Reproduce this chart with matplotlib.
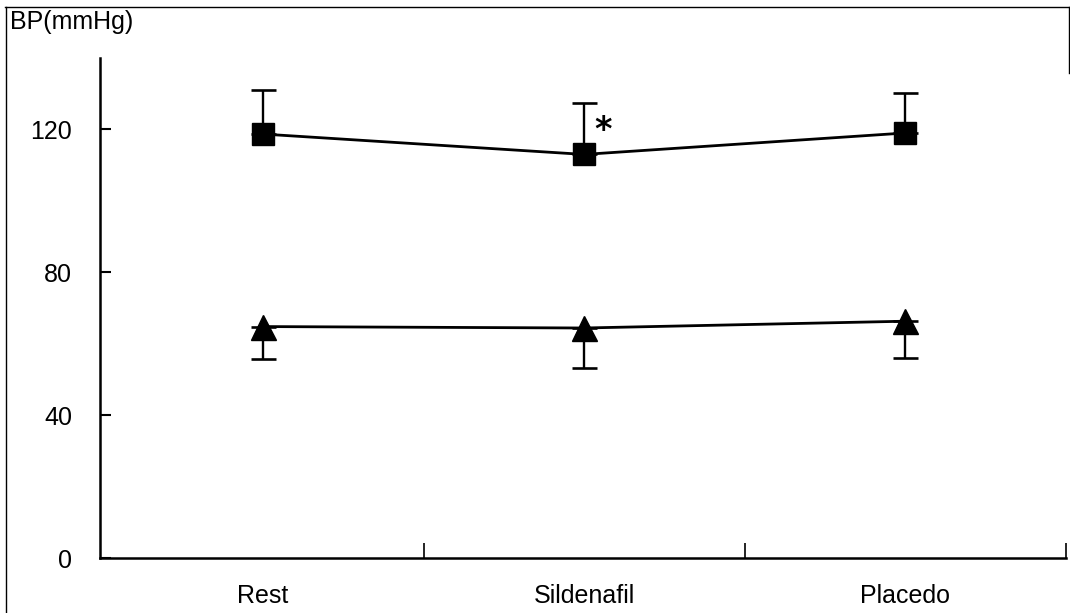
import matplotlib
matplotlib.use("Agg")
import matplotlib.pyplot as plt
from matplotlib.lines import Line2D

categories = ["Rest", "Sildenafil", "Placedo"]
systolic = [118.7, 113.0, 119.0]
systolic_sd = [12.2, 14.4, 11.1]
diastolic = [64.8, 64.4, 66.3]
diastolic_sd = [9.1, 11.2, 10.3]
yticks = [0, 40, 80, 120]
ylabel = "BP(mmHg)"
sig_mark = "*"

plt.rcParams['font.family'] = ['Liberation Sans', 'DejaVu Sans']

fig = plt.figure(figsize=(10.7, 6.13), dpi=100)
ax = fig.add_axes([100/1070, 1-558/613, 965.5/1070, (558-58)/613])

x = list(range(len(categories)))

ax.errorbar(x, systolic, yerr=[[0]*3, systolic_sd], fmt='none', ecolor='black',
            elinewidth=1.7, capsize=9, capthick=1.9, zorder=2)
ax.plot(x, systolic, color='black', lw=2.0, marker='s', markersize=16.5,
        markerfacecolor='black', markeredgecolor='black', zorder=3)

ax.errorbar(x, diastolic, yerr=[diastolic_sd, [0]*3], fmt='none', ecolor='black',
            elinewidth=1.7, capsize=9, capthick=1.9, zorder=2)
ax.plot(x, diastolic, color='black', lw=2.0, marker='^', markersize=18,
        markerfacecolor='black', markeredgecolor='black', zorder=3)

ax.text(1 + 0.058, systolic[1] + 6.8, sig_mark, fontsize=24, fontweight='bold',
        ha='center', va='center', family='DejaVu Sans')

ax.set_xlim(-0.508, 2.5)
ax.set_ylim(0, 140)

ax.spines['top'].set_visible(False)
ax.spines['right'].set_visible(False)
ax.spines['left'].set_linewidth(1.8)
ax.spines['bottom'].set_linewidth(1.8)

ax.set_yticks(yticks)
ax.set_yticklabels([str(v) for v in yticks], fontsize=18)
ax.tick_params(axis='y', direction='in', length=8, width=1.5, pad=20)

ax.set_xticks([0.5, 1.5, 2.5])
ax.set_xticklabels([])
ax.tick_params(axis='x', which='major', direction='in', length=11, width=1.2)
ax.set_xticks(x, minor=True)
ax.set_xticklabels(categories, minor=True, fontsize=18)
ax.tick_params(axis='x', which='minor', length=0, pad=19)

fig.text(10/1070, 1-22/613, ylabel, fontsize=18, ha='left', va='center')

# scanned frame
fig.add_artist(Line2D([5/1070, 1069/1070], [1-7/613, 1-7/613], color='black', lw=1.0))
fig.add_artist(Line2D([6/1070, 6/1070], [1-7/613, 0], color='black', lw=1.0))
fig.add_artist(Line2D([1069/1070, 1069/1070], [1-7/613, 1-73/613], color='black', lw=1.0))

fig.savefig("out.png", dpi=100)
